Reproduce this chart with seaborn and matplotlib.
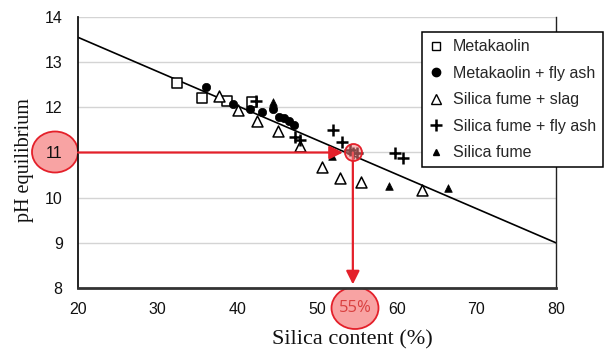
import matplotlib
matplotlib.use("Agg")
import matplotlib.pyplot as plt
from matplotlib.lines import Line2D
from matplotlib.patches import Ellipse
import seaborn as sns
import pandas as pd

sns.set_style("white")
plt.rcParams["font.family"] = ["Liberation Sans", "DejaVu Sans"]

# ---- data ----
mk_x = [32.4, 35.6, 38.7, 41.8]
mk_y = [12.54, 12.21, 12.14, 12.12]

mkfa_x = [36.1, 39.4, 41.6, 43.1, 44.5, 45.2, 45.9, 46.5, 47.1]
mkfa_y = [12.45, 12.08, 11.96, 11.90, 11.96, 11.79, 11.77, 11.70, 11.61]

sfsl_x = [37.7, 40.1, 42.5, 45.1, 47.9, 50.6, 52.9, 55.5, 63.2]
sfsl_y = [12.25, 11.94, 11.70, 11.48, 11.15, 10.68, 10.44, 10.35, 10.17]

sffa_x = [42.3, 47.2, 47.9, 52.0, 53.1, 54.1, 54.5, 55.0, 59.8, 60.8]
sffa_y = [12.14, 11.35, 11.28, 11.50, 11.23, 11.06, 10.99, 10.99, 10.99, 10.88]

sf_x = [44.5, 51.9, 59.0, 66.4]
sf_y = [12.12, 10.92, 10.26, 10.22]

fit_x = [20, 80]
fit_y = [13.55, 9.0]

target_x = 54.5
target_y = 11
silica_label = "55%"

series = ["Metakaolin", "Metakaolin + fly ash", "Silica fume + slag",
          "Silica fume + fly ash", "Silica fume"]

xticks = [20, 30, 40, 50, 60, 70, 80]
yticks = [8, 9, 10, 11, 12, 13, 14]

# ---- figure ----
W, H = 604, 354
fig = plt.figure(figsize=(W / 100, H / 100), dpi=100)
ax = fig.add_axes([78 / W, 1 - 288 / H, (556 - 78) / W, (288 - 17) / H])

ax.set_xlim(20, 80)
ax.set_ylim(8, 14)
ax.set_xticks(xticks)
ax.set_yticks(yticks)
ax.yaxis.grid(True, color="#d4d4d4", lw=1)
ax.set_axisbelow(True)

ax.spines["top"].set_visible(False)
ax.spines["right"].set_color("#222222")
ax.spines["right"].set_linewidth(1)
ax.spines["left"].set_color("#111111")
ax.spines["left"].set_linewidth(1.3)
ax.spines["bottom"].set_color("#333333")
ax.spines["bottom"].set_linewidth(2)

ax.tick_params(axis="both", direction="in", length=4, color="#555555",
               labelsize=11.5, labelcolor="#111111")
ax.tick_params(axis="y", pad=11)
ax.tick_params(axis="x", pad=10)

# regression line
sns.lineplot(x=fit_x, y=fit_y, ax=ax, color="black", lw=1.2, zorder=2)

df = pd.concat([
    pd.DataFrame({"x": mk_x, "y": mk_y, "s": series[0]}),
    pd.DataFrame({"x": mkfa_x, "y": mkfa_y, "s": series[1]}),
    pd.DataFrame({"x": sfsl_x, "y": sfsl_y, "s": series[2]}),
    pd.DataFrame({"x": sffa_x, "y": sffa_y, "s": series[3]}),
    pd.DataFrame({"x": sf_x, "y": sf_y, "s": series[4]}),
])

style = {
    series[0]: dict(marker="s", s=46, facecolor="white", edgecolor="black", linewidth=1.1),
    series[1]: dict(marker="o", s=36, facecolor="black", edgecolor="black", linewidth=0.5),
    series[2]: dict(marker="^", s=62, facecolor="white", edgecolor="black", linewidth=1.1),
    series[3]: dict(marker="+", s=70, color="black", linewidth=1.8),
    series[4]: dict(marker="^", s=30, facecolor="black", edgecolor="black", linewidth=0.5),
}
for name in series:
    sub = df[df["s"] == name]
    sns.scatterplot(data=sub, x="x", y="y", ax=ax, legend=False, zorder=3, **style[name])

ax.set_xlabel("Silica content (%)", family=["Liberation Serif"], fontsize=16,
              color="#111111")
ax.set_ylabel("pH equilibrium", family=["Liberation Serif"], fontsize=14.5,
              color="#111111")
ax.xaxis.set_label_coords((352 - 78) / 478, (288 - 340) / 271)
ax.xaxis.label.set_va("center")
ax.yaxis.set_label_coords((25 - 78) / 478, (288 - 160) / 271)
ax.yaxis.label.set_va("center")

# ---- annotations ----
red = "#e4202a"
pink = "#f8a3a3"
ax.annotate("", xy=(target_x - 1.25, target_y), xytext=(20, target_y),
            arrowprops=dict(arrowstyle="-|>", color=red, lw=1.6,
                            mutation_scale=20, shrinkA=0, shrinkB=0),
            zorder=5, annotation_clip=False)
ax.annotate("", xy=(target_x, 8.08), xytext=(target_x, target_y),
            arrowprops=dict(arrowstyle="-|>", color=red, lw=1.6,
                            mutation_scale=20, shrinkA=0, shrinkB=0),
            zorder=5)
ax.scatter([target_x], [target_y], s=150, facecolor=(0.97, 0.5, 0.5, 0.55),
           edgecolor=red, linewidth=1.3, zorder=6)

# circle behind the "11" tick label
e1 = Ellipse((55 / W, 1 - 152 / H), 46 / W, 41 / H, transform=fig.transFigure,
             facecolor=pink, edgecolor=red, lw=1.3, zorder=-1)
fig.add_artist(e1)

e2 = Ellipse((355 / W, 1 - 308 / H), 47 / W, 42 / H, transform=fig.transFigure,
             facecolor=pink, edgecolor=red, lw=1.3, zorder=-1)
fig.add_artist(e2)
fig.text(355 / W, 1 - 308 / H, silica_label, ha="center", va="center",
         fontsize=12, color="#d9403f", family=["Open Sans"])

# ---- legend ----
handles = [
    Line2D([], [], ls="", marker="s", ms=6, mfc="white", mec="black", mew=1),
    Line2D([], [], ls="", marker="o", ms=6, mfc="black", mec="black"),
    Line2D([], [], ls="", marker="^", ms=7, mfc="white", mec="black", mew=1),
    Line2D([], [], ls="", marker="+", ms=8, color="black", mew=1.8),
    Line2D([], [], ls="", marker="^", ms=5, mfc="black", mec="black"),
]
leg = fig.legend(handles, series, loc="upper right",
                 bbox_to_anchor=(603 / W, 1 - 32 / H), frameon=True,
                 fancybox=False, framealpha=1, edgecolor="black",
                 fontsize=11.5, handlelength=0.9, handletextpad=0.6,
                 labelspacing=0.72, borderpad=0.45, borderaxespad=0)
leg.get_frame().set_linewidth(1.1)

fig.savefig("out.png", dpi=100)
